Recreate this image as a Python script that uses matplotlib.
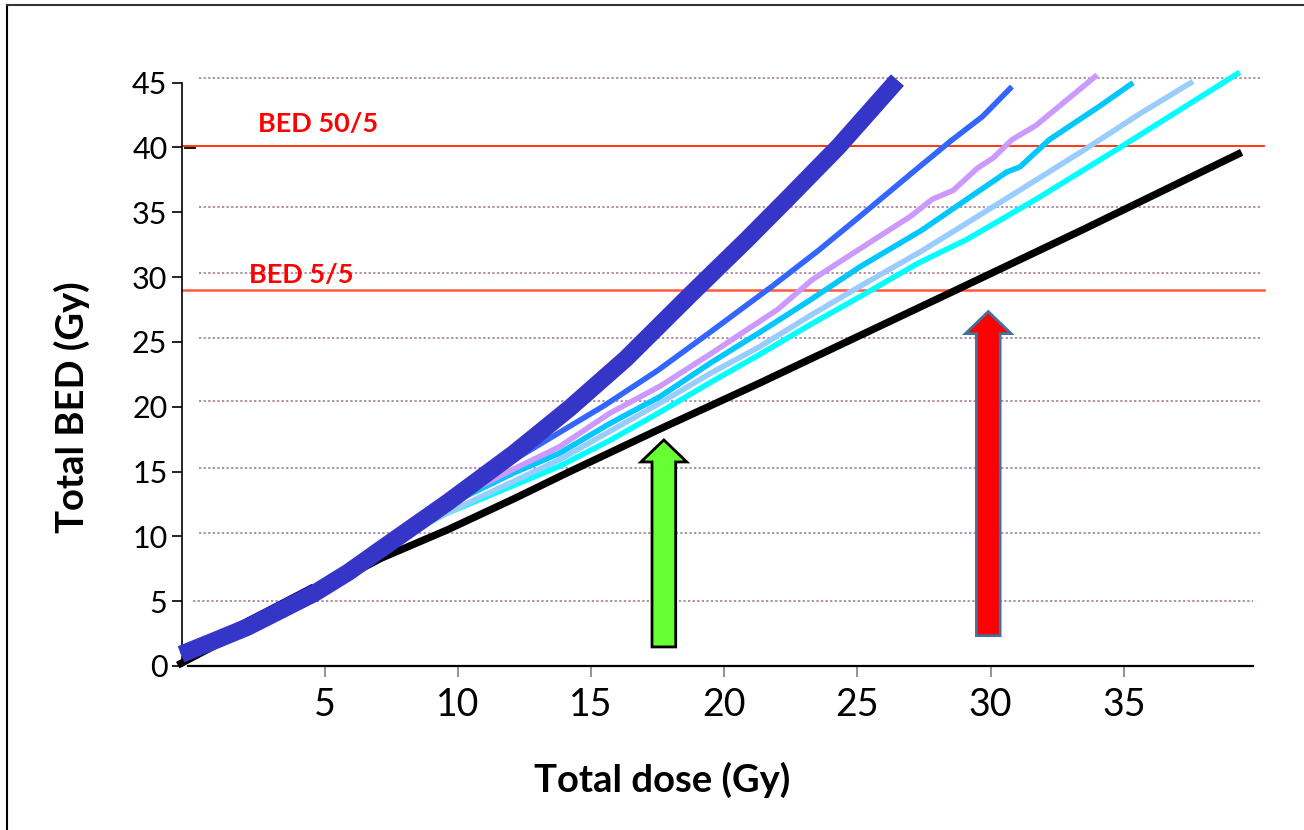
import matplotlib
matplotlib.use("Agg")
import matplotlib.pyplot as plt
from matplotlib.lines import Line2D
from matplotlib.patches import FancyArrow

plt.rcParams['font.family'] = ['Lato', 'DejaVu Sans']

# curves: total dose (Gy) -> total BED (Gy)
dose_thick = [-0.4, 0.8, 2.1, 3.3, 4.6, 5.9, 7.1, 9.6, 12.1, 14.2, 16.3, 18.8, 20.8, 22.3, 24.3, 26.5]
bed_thick = [0.9, 1.9, 3.0, 4.25, 5.6, 7.25, 9.0, 12.6, 16.4, 19.9, 23.7, 28.8, 32.8, 35.9, 40.1, 45.2]

dose_royal = [-0.4, 4.6, 7.6, 10.0, 12.1, 13.8, 15.5, 17.5, 19.5, 21.8, 23.5, 25.1, 27.2, 28.5, 29.7, 30.8]
bed_royal = [0.9, 6.0, 9.9, 13.2, 15.9, 18.0, 20.1, 22.8, 25.8, 29.3, 32.0, 34.7, 38.3, 40.5, 42.4, 44.7]

dose_lav = [-0.4, 4.6, 7.6, 10.2, 12.1, 13.8, 15.7, 17.6, 19.5, 22.0, 23.3, 24.8, 27.0, 27.8,
            28.6, 29.5, 30.1, 30.8, 31.7, 32.7, 34.0]
bed_lav = [0.9, 6.0, 9.9, 13.2, 15.2, 16.9, 19.5, 21.6, 24.1, 27.5, 29.8, 31.8, 34.7, 36.0,
           36.7, 38.4, 39.2, 40.6, 41.7, 43.4, 45.6]

dose_sky = [-0.4, 4.6, 7.6, 10.0, 12.1, 13.8, 15.7, 17.6, 19.5, 21.3, 23.2, 25.1, 27.4, 29.6,
            30.6, 31.1, 32.2, 34.1, 35.35]
bed_sky = [0.9, 6.0, 9.8, 12.8, 14.9, 16.4, 18.7, 20.8, 23.4, 25.7, 28.2, 30.8, 33.6, 36.7,
           38.1, 38.5, 40.6, 43.2, 45.0]

dose_light = [-0.4, 4.6, 7.6, 10.8, 13.8, 15.7, 17.6, 19.5, 21.3, 23.2, 25.1, 27.4, 30.7, 33.5, 35.6, 37.6]
bed_light = [0.9, 6.0, 9.8, 13.0, 15.9, 18.1, 20.3, 22.6, 24.6, 27.0, 29.3, 32.0, 36.2, 39.8, 42.6, 45.1]

dose_cyan = [-0.4, 4.6, 7.6, 9.6, 13.8, 15.7, 17.6, 19.5, 21.3, 23.2, 25.1, 27.3, 29.1, 31.7, 34.7, 39.35]
bed_cyan = [0.9, 6.0, 9.7, 11.8, 15.4, 17.4, 19.6, 21.9, 24.0, 26.3, 28.5, 31.1, 32.9, 36.0, 39.8, 45.8]

dose_black = [-0.4, 7.1, 9.6, 12.1, 14.2, 17.6, 21.3, 25.1, 28.7, 33.5, 39.3]
bed_black = [0.2, 8.3, 10.5, 12.9, 15.0, 18.3, 21.8, 25.5, 29.0, 33.7, 39.5]

# short dark piece peeking out above the thick curve
dose_navy = [1.4, 3.0, 4.5]
bed_navy = [2.9, 4.6, 6.2]

# reference BED levels
bed_levels = [40.1, 29.0]
bed_labels = ['BED 50/5', 'BED 5/5']
bed_label_x = [4.74, 4.13]
bed_label_y = [41.8, 30.2]

# dotted guide lines (slightly off the tick values in the original)
grid_y = [5.0, 10.24, 15.3, 20.42, 25.28, 30.35, 35.39, 45.35]
grid_x0 = [0.06, 0.29, 0.29, 0.29, 0.29, 0.29, 0.29, 0.29]

x_ticks = [5, 10, 15, 20, 25, 30, 35]
y_ticks = [0, 5, 10, 15, 20, 25, 30, 35, 40, 45]

# arrows: x, tip y, bottom y
green_arrow = (17.73, 17.44, 1.47)
red_arrow = (29.91, 27.34, 2.34)

fig = plt.figure(figsize=(13.04, 8.30), dpi=100)
ax = fig.add_axes([0.1396, 0.1976, 0.8213, 0.7028])
ax.set_xlim(-0.36, 39.85)
ax.set_ylim(0, 45)

for y, x0 in zip(grid_y, grid_x0):
    x1 = 39.84 if y < 6 else 40.1
    ax.plot([x0, x1], [y, y], ls=(0, (1.5, 1.5)), lw=1.1, color='#a07090', clip_on=False, zorder=1)

ax.plot([-0.36, 40.26], [bed_levels[0]] * 2, color='#ff2a00', lw=1.3, clip_on=False, zorder=2)
ax.plot([-0.36, 40.26], [bed_levels[1]] * 2, color='#ff5a3c', lw=1.8, clip_on=False, zorder=2)
for lab, lx, ly in zip(bed_labels, bed_label_x, bed_label_y):
    ax.text(lx, ly, lab, color='#ff0000', fontsize=19.5, fontweight='bold', ha='center', va='center')

ax.plot([-0.25, 0.13], [39.95, 39.95], color='black', lw=1.3, clip_on=False, zorder=3)

ax.plot(dose_black, bed_black, color='black', lw=5.3, zorder=4, clip_on=False)
ax.plot(dose_cyan, bed_cyan, color='#00ffff', lw=4.0, zorder=5, clip_on=False, solid_capstyle='butt')
ax.plot(dose_light, bed_light, color='#99ccff', lw=4.0, zorder=5, clip_on=False, solid_capstyle='butt')
ax.plot(dose_sky, bed_sky, color='#00c8ff', lw=4.0, zorder=6, clip_on=False, solid_capstyle='butt')
ax.plot(dose_lav, bed_lav, color='#cc99ff', lw=4.0, zorder=6, clip_on=False, solid_capstyle='butt')
ax.plot(dose_royal, bed_royal, color='#3366ff', lw=4.0, zorder=7, clip_on=False, solid_capstyle='butt')
ax.plot(dose_navy, bed_navy, color='#000080', lw=2.0, zorder=7)
ax.plot(dose_thick, bed_thick, color='#3535c8', lw=12.5, zorder=8, clip_on=False, solid_capstyle='butt')

for (ax_x, tip, base), fc, ec in [(green_arrow, '#66ff33', 'black'), (red_arrow, '#ff0000', '#41719c')]:
    head_w = 1.72
    shaft_w = 0.89
    head_l = 1.7
    ax.add_patch(FancyArrow(ax_x, base, 0, tip - base, width=shaft_w, head_width=head_w,
                            head_length=head_l, length_includes_head=True,
                            facecolor=fc, edgecolor=ec, lw=2, zorder=9))

ax.spines['top'].set_visible(False)
ax.spines['right'].set_visible(False)
ax.spines['left'].set_linewidth(1.2)
ax.spines['bottom'].set_linewidth(1.6)
ax.spines['bottom'].set_bounds(-0.14, 39.85)

ax.set_xticks(x_ticks)
ax.set_yticks(y_ticks)
ax.tick_params(axis='x', length=8, width=1.2, color='#808080', pad=7, labelsize=27)
ax.tick_params(axis='y', length=7, width=1.2, color='black', pad=3.5, labelsize=22)

fig.text(662 / 1304, 1 - 780 / 830, 'Total dose (Gy)', fontsize=27.5, fontweight='bold',
         ha='center', va='center')
fig.text(72 / 1304, 1 - 407 / 830, 'Total BED (Gy)', fontsize=27.5, fontweight='bold',
         ha='center', va='center', rotation=90)

# frame around the slide
fig.add_artist(Line2D([7 / 1304, 7 / 1304], [0, 1 - 5 / 830], color='black', lw=1.5))
fig.add_artist(Line2D([7 / 1304, 1], [1 - 5 / 830, 1 - 5 / 830], color='#333333', lw=1.5))

fig.savefig('out.png', dpi=100)
